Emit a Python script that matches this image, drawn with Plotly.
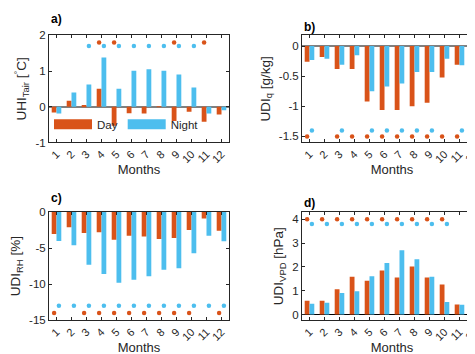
import plotly.graph_objects as go

# month categories
months = list(range(1, 13))
month_labels = [str(m) for m in months]

# a) UHI of air temperature [°C]
uhi_day = [-0.16, 0.17, 0.05, 0.50, -0.53, -0.18, -0.19, 0.01, -0.40, -0.14, -0.42, -0.22]
uhi_night = [-0.19, 0.40, 0.62, 1.38, 0.50, 1.01, 1.05, 1.01, 0.90, 0.54, -0.19, -0.10]
uhi_sig_day = [4, 5, 9, 11]
uhi_sig_night = [3, 4, 5, 6, 7, 8, 9, 10]

# b) UDI of specific humidity [g/kg]
udq_day = [-0.26, -0.18, -0.38, -0.38, -0.92, -1.06, -1.06, -1.00, -0.94, -0.52, -0.31, -0.35]
udq_night = [-0.23, -0.21, -0.31, -0.15, -0.75, -0.67, -0.62, -0.43, -0.43, -0.21, -0.32, -0.36]
udq_sig_day = [1, 3, 4, 5, 6, 7, 8, 9, 10, 11, 12]
udq_sig_night = [1, 3, 5, 6, 7, 8, 9, 11, 12]

# c) UDI of relative humidity [%]
udrh_day = [-3.05, -2.1, -2.9, -2.8, -3.85, -3.3, -3.4, -3.75, -3.6, -2.5, -0.9, -2.6]
udrh_night = [-4.0, -4.6, -7.3, -8.6, -9.8, -9.4, -8.9, -8.0, -7.8, -5.7, -3.3, -4.05]
udrh_sig_day = [1, 3, 4, 5, 6, 7, 8, 9, 10, 12]
udrh_sig_night = [1, 2, 3, 4, 5, 6, 7, 8, 9, 10, 11, 12]

# d) UDI of vapour pressure deficit [hPa]
udvpd_day = [0.58, 0.58, 1.06, 1.59, 1.42, 1.85, 1.55, 2.02, 1.55, 1.26, 0.42, 0.53]
udvpd_night = [0.45, 0.49, 0.90, 0.98, 1.61, 2.16, 2.70, 2.32, 1.59, 0.53, 0.41, 0.49]
udvpd_sig_day = [1, 2, 3, 4, 5, 6, 7, 8, 9, 10, 12]
udvpd_sig_night = [1, 2, 3, 4, 5, 6, 7, 8, 9, 10]

DAY = '#D95319'
NIGHT = '#4DBEEE'
INK = '#262626'
FONT = 'Liberation Sans, Arial, sans-serif'
W, H = 475, 354

panels = [
    dict(ax='', label='a)', day=uhi_day, night=uhi_night,
         sday=uhi_sig_day, snight=uhi_sig_night, lday=1.8, lnight=1.7,
         title='UHI<sub>Tair</sub> [<sup>°</sup>C]', yrange=[-1, 2],
         yticks=[-1, 0, 1, 2], box=(41, 221, 22, 133), lab_y=5,
         zero=dict(zeroline=True, zerolinecolor='#808080', zerolinewidth=2)),
    dict(ax='2', label='b)', day=udq_day, night=udq_night,
         sday=udq_sig_day, snight=udq_sig_night, lday=-1.5, lnight=-1.4,
         title='UDI<sub>q</sub> [g/kg]', yrange=[-1.6, 0.18],
         yticks=[-1.5, -1, -0.5, 0], box=(294, 474, 22, 133), lab_y=13,
         zero=dict(zeroline=True, zerolinecolor='#808080', zerolinewidth=2)),
    dict(ax='3', label='c)', day=udrh_day, night=udrh_night,
         sday=udrh_sig_day, snight=udrh_sig_night, lday=-14, lnight=-13,
         title='UDI<sub>RH</sub> [%]', yrange=[-15, 0],
         yticks=[-15, -10, -5, 0], box=(41, 221, 205, 317), lab_y=190,
         zero=dict(zeroline=False)),
    dict(ax='4', label='d)', day=udvpd_day, night=udvpd_night,
         sday=udvpd_sig_day, snight=udvpd_sig_night, lday=4.0, lnight=3.8,
         title='UDI<sub>VPD</sub> [hPa]', yrange=[-0.24, 4.3],
         yticks=[0, 1, 2, 3, 4], box=(294, 474, 205, 317), lab_y=196,
         zero=dict(zeroline=True, zerolinecolor='#000000', zerolinewidth=1)),
]

fig = go.Figure()
layout = {}
annotations = []

for p in panels:
    xa, ya = 'x' + p['ax'], 'y' + p['ax']
    fig.add_trace(go.Bar(x=months, y=p['day'], marker_color=DAY, marker_line_width=0,
                         offsetgroup='day', xaxis=xa, yaxis=ya, showlegend=False, name='Day'))
    fig.add_trace(go.Bar(x=months, y=p['night'], marker_color=NIGHT, marker_line_width=0,
                         offsetgroup='night', xaxis=xa, yaxis=ya, showlegend=False, name='Night'))
    fig.add_trace(go.Scatter(x=p['sday'], y=[p['lday']] * len(p['sday']), mode='markers',
                             marker=dict(color=DAY, size=4.5), offsetgroup='day',
                             xaxis=xa, yaxis=ya, showlegend=False))
    fig.add_trace(go.Scatter(x=p['snight'], y=[p['lnight']] * len(p['snight']), mode='markers',
                             marker=dict(color=NIGHT, size=4.5), offsetgroup='night',
                             xaxis=xa, yaxis=ya, showlegend=False))
    if p['ax'] == '':
        # legend-only entries drawn as long colour patches
        fig.add_trace(go.Scatter(x=[None], y=[None], mode='lines', name='Day',
                                 line=dict(color=DAY, width=10), offsetgroup='day',
                                 xaxis=xa, yaxis=ya))
        fig.add_trace(go.Scatter(x=[None], y=[None], mode='lines', name='Night',
                                 line=dict(color=NIGHT, width=10), offsetgroup='night',
                                 xaxis=xa, yaxis=ya))

    x0, x1, y0, y1 = p['box']
    layout['xaxis' + p['ax']] = dict(
        domain=[x0 / W, x1 / W], anchor=ya, range=[0.5, 12.5],
        tickvals=months, ticktext=month_labels, tickangle=-45,
        ticks='inside', ticklen=3, tickcolor=INK, showline=True, linecolor=INK,
        linewidth=1, mirror='ticks', showgrid=False, zeroline=False,
        tickfont=dict(size=11, color=INK, family=FONT),
        title=dict(text='Months', font=dict(size=13, color=INK, family=FONT), standoff=0))
    layout['yaxis' + p['ax']] = dict(
        domain=[1 - y1 / H, 1 - y0 / H], anchor=xa, range=p['yrange'],
        tickvals=p['yticks'], ticktext=[f'{v:g}' for v in p['yticks']],
        ticks='inside', ticklen=3, tickcolor=INK, showline=True, linecolor=INK,
        linewidth=1, mirror='ticks', showgrid=False,
        tickfont=dict(size=11.5, color=INK, family=FONT),
        title=dict(text=p['title'], font=dict(size=13.5, color=INK, family=FONT), standoff=5),
        **p['zero'])
    annotations.append(dict(text='<b>' + p['label'] + '</b>', xref='paper', yref='paper',
                            x=x0 / W, y=1 - p['lab_y'] / H, xanchor='left', yanchor='middle',
                            showarrow=False, font=dict(size=12, color='#000000', family=FONT)))

fig.update_layout(
    width=W, height=H, margin=dict(l=0, r=0, t=0, b=0),
    paper_bgcolor='white', plot_bgcolor='white',
    barmode='group', bargap=0.36, bargroupgap=0,
    scattermode='group', scattergap=0.36,
    font=dict(family=FONT, color=INK),
    legend=dict(orientation='h', x=41 / W, y=1 - 114 / H, xanchor='left', yanchor='middle',
                bgcolor='rgba(255,255,255,0)', itemwidth=38,
                font=dict(size=11.5, color=INK, family=FONT)),
    annotations=annotations,
    **layout)

fig.write_html("out.html")
